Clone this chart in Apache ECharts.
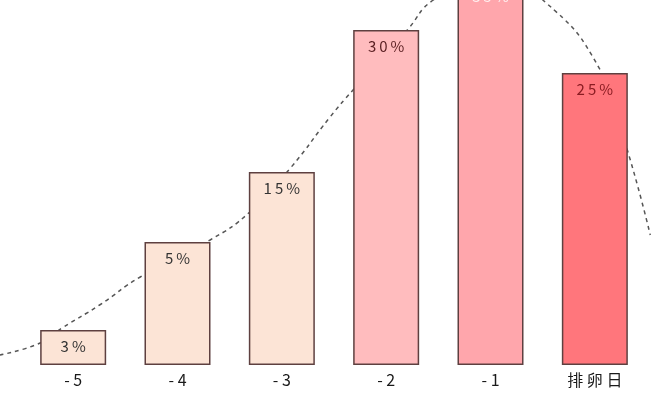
<!DOCTYPE html>
<html>
<head>
<meta charset="utf-8">
<script src="https://cdn.jsdelivr.net/npm/echarts@6/dist/echarts.min.js"></script>
<style>
  html, body { margin: 0; padding: 0; background: #fff; }
  #chart { width: 651px; height: 400px; }
</style>
</head>
<body>
<div id="chart"></div>
<script>
  'use strict';

  // days before ovulation
  var categories = ['-5', '-4', '-3', '-2', '-1', '排卵日'];
  // drawn bar heights (infographic, not to scale with the percentages)
  var barHeights = [35, 123, 193, 335, 385, 292];
  var pctLabels = ['3%', '5%', '15%', '30%', '35%', '25%'];
  var barColors = ['#fce4d6', '#fce4d6', '#fce4d6', '#ffbcbe', '#ffa6ac', '#ff767c'];
  var labelColors = ['#333333', '#333333', '#333333', '#5a1f22', '#fff0f0', '#8a1c22'];

  // dashed bell curve, [category position, height]
  var curveX = [-0.71, -0.32, -0.11, 0.25, 0.64, 1.31, 1.69, 2.08, 2.46, 2.68, 3.2, 3.45, 3.99, 4.5, 5.05, 5.31, 5.53];
  var curveY = [10, 22, 37, 60, 88, 125, 153, 197, 248, 275, 335, 365, 392, 365, 295, 215, 130];

  function spaced(s, gap) {
    return s.split('').join(gap);
  }

  var chart = echarts.init(document.getElementById('chart'));

  var barData = barHeights.map(function (v, i) {
    return {
      value: v,
      itemStyle: { color: barColors[i] },
      label: { color: labelColors[i] }
    };
  });

  var curveData = curveX.map(function (x, i) {
    return [x, curveY[i]];
  });

  chart.setOption({
    animation: false,
    grid: [
      { left: 21, right: 4, top: 0, bottom: 35 },
      { left: 0, right: 0, top: 0, bottom: 35 }
    ],
    xAxis: [
      {
        type: 'category',
        gridIndex: 0,
        data: categories,
        axisLine: { show: false },
        axisTick: { show: false },
        axisLabel: {
          margin: 7,
          fontSize: 16,
          color: '#1a1a1a',
          fontFamily: 'Noto Sans CJK SC',
          formatter: function (v) { return spaced(v, ' '); }
        }
      },
      {
        type: 'value',
        gridIndex: 1,
        min: -0.705,
        max: 5.537,
        show: false
      }
    ],
    yAxis: [
      { type: 'value', gridIndex: 0, min: 0, max: 365, show: false },
      { type: 'value', gridIndex: 1, min: 0, max: 365, show: false }
    ],
    series: [
      {
        type: 'line',
        xAxisIndex: 1,
        yAxisIndex: 1,
        data: curveData,
        smooth: true,
        symbol: 'none',
        clip: false,
        z: 1,
        lineStyle: { color: '#555', width: 1.5, type: [4, 4] }
      },
      {
        type: 'bar',
        data: barData,
        barWidth: 66,
        clip: false,
        z: 2,
        itemStyle: { borderColor: '#5e4040', borderWidth: 1.5 },
        label: {
          show: true,
          position: 'insideTop',
          distance: 9,
          fontSize: 15,
          fontFamily: 'Noto Sans CJK SC',
          formatter: function (p) { return spaced(pctLabels[p.dataIndex], '\u2009'); }
        }
      }
    ]
  });
</script>
</body>
</html>
